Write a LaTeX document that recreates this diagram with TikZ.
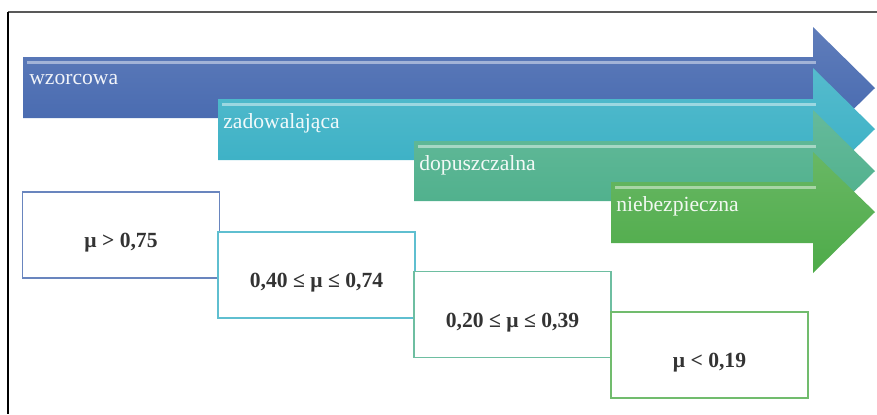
\documentclass[tikz,border=0pt]{standalone}
\usepackage{fontspec}
\setmainfont{Liberation Serif}
\usepackage{xcolor}
\usepackage{tikz}

\definecolor{niebieski}{HTML}{4366AE}
\definecolor{turkus}{HTML}{37AFC4}
\definecolor{morski}{HTML}{4AAE89}
\definecolor{zielony}{HTML}{4EAB49}

\tikzset{
  ramka/.style={draw=#1, line width=1.1pt, fill=white, minimum width=3.94cm,
    minimum height=1.72cm, inner sep=0pt, text=black!80,
    text height=0.58cm, text depth=0.08cm,
    font=\fontsize{12.3}{15}\selectfont\bfseries},
  etykieta/.style={anchor=west, inner sep=0pt, text=white, text opacity=.92,
    font=\fontsize{12.3}{15}\selectfont},
  blask/.style={white, opacity=.45, line width=0.06cm}
}

\begin{document}
\begin{tikzpicture}[x=0.02cm, y=-0.02cm]
\useasboundingbox (0,0) rectangle (877,414);
\draw[gray!70!black, line width=0.8pt] (8,12) -- (877,12);
\draw[black, line width=0.8pt] (8,12) -- (8,414);

\shade[top color=niebieski!85!white, bottom color=niebieski]
  (23,57) -- (813,57) -- (813,27) -- (875,88) -- (813,149) -- (813,118) -- (23,118) -- cycle;
\draw[blask] (27,62) -- (816,62);
\node[etykieta] (wz) at (29,80) {wzorcowa};

\shade[top color=turkus!85!white, bottom color=turkus]
  (218,99) -- (813,99) -- (813,68) -- (875,129) -- (813,190) -- (813,160) -- (218,160) -- cycle;
\draw[blask] (222,104) -- (816,104);
\node[etykieta] (za) at (223,123) {zadowalająca};

\shade[top color=morski!85!white, bottom color=morski]
  (414,141) -- (813,141) -- (813,110) -- (875,171) -- (813,232) -- (813,201) -- (414,201) -- cycle;
\draw[blask] (418,146) -- (816,146);
\node[etykieta] (do) at (419,165) {dopuszczalna};

\shade[top color=zielony!85!white, bottom color=zielony]
  (611,182) -- (813,182) -- (813,152) -- (875,212) -- (813,273) -- (813,243) -- (611,243) -- cycle;
\draw[blask] (615,187) -- (816,187);
\node[etykieta] (ni) at (616,206) {niebezpieczna};

\node[ramka=niebieski!80] (p1) at (121,235) {μ > 0,75};
\node[ramka=turkus!80] (p2) at (316.5,275) {0,40 ≤ μ ≤ 0,74};
\node[ramka=morski!80] (p3) at (512.5,314.5) {0,20 ≤ μ ≤ 0,39};
\node[ramka=zielony!80] (p4) at (709.5,355) {μ < 0,19};
\end{tikzpicture}
\end{document}
